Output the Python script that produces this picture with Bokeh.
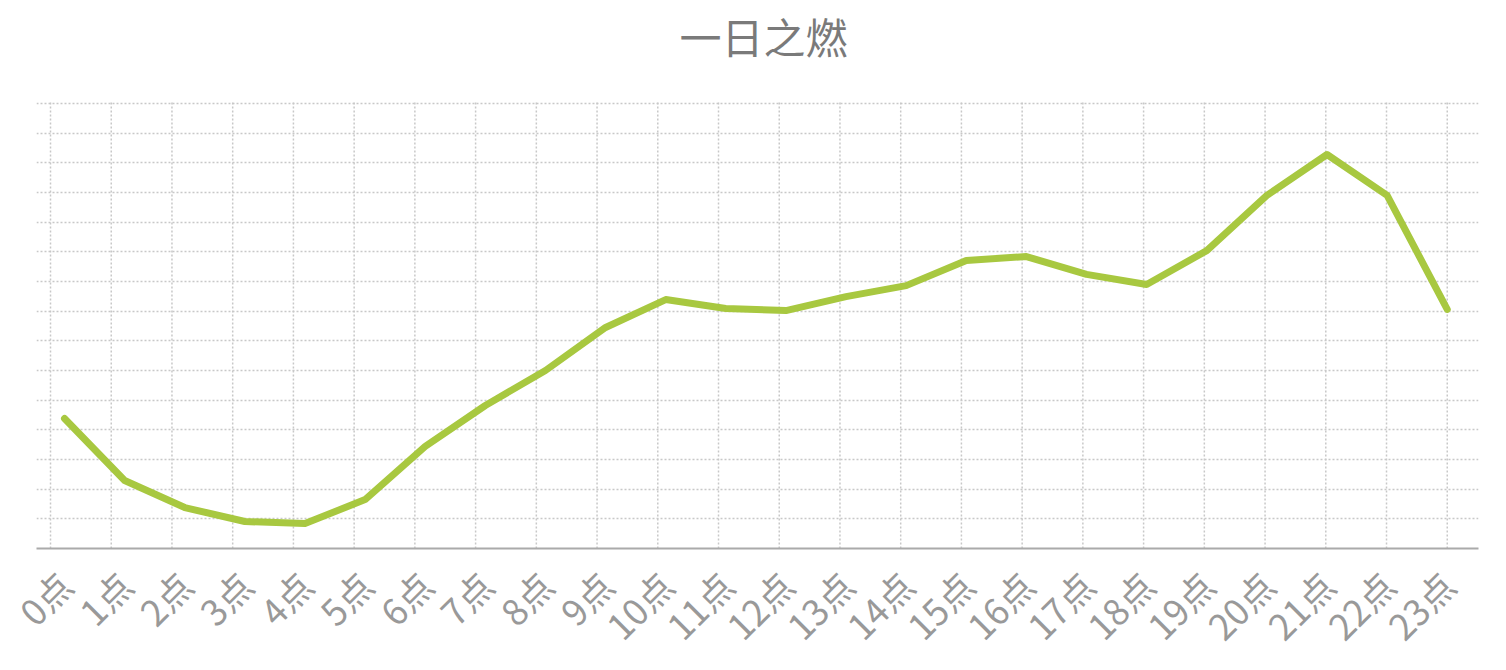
import math
import numpy as np
from bokeh.plotting import figure
from bokeh.models import FixedTicker, ColumnDataSource, Range1d, Label
from bokeh.embed import file_html
from bokeh.resources import INLINE

title_text = "一日之燃"
hours = list(range(24))
hour_labels = [f"{h}点" for h in hours]
values = [4.38, 2.29, 1.38, 0.91, 0.84, 1.65, 3.44, 4.82, 6.0, 7.45, 8.39, 8.09,
          8.02, 8.49, 8.86, 9.71, 9.84, 9.24, 8.90, 10.04, 11.9, 13.28, 11.9, 8.06]
grid_levels = list(range(1, 16))

# frame spans the whole top area so the title can sit inside it
p = figure(width=1500, height=670, output_backend="svg", toolbar_location=None,
           x_range=Range1d(-0.466, 23.52), y_range=Range1d(0, 18.47),
           y_axis_location=None, min_border_left=36, min_border_right=22,
           min_border_top=0, min_border_bottom=122)
p.outline_line_color = None
p.background_fill_color = "white"

title = Label(x=727, y=513, x_units="screen", y_units="screen", text=title_text,
              text_align="center", text_baseline="middle",
              text_font="Noto Sans CJK SC", text_font_size="42px",
              text_color="#7a7a7a")
p.add_layout(title)

# vertical dotted grid (evenly spread, slightly offset from the points like the original)
grid_x = list(np.linspace(-0.233, hours[-1], len(hours)))
top_level = max(grid_levels) + 0.1
vsrc = ColumnDataSource(dict(x=grid_x, y0=[0] * len(grid_x), y1=[top_level] * len(grid_x)))
p.segment(x0="x", y0="y0", x1="x", y1="y1", source=vsrc, line_color="#c8c8c8",
          line_dash="2 2", line_width=1.5)

src = ColumnDataSource(dict(x=hours, y=values))
p.line("x", "y", source=src, line_color="#a8c840", line_width=7, line_join="round", line_cap="round")

p.xaxis.ticker = FixedTicker(ticks=hours)
p.xaxis.major_label_overrides = {h: lab for h, lab in zip(hours, hour_labels)}
p.xaxis.major_label_orientation = math.pi / 4
p.xaxis.major_label_text_font = "Noto Sans CJK SC"
p.xaxis.major_label_text_font_size = "36px"
p.xaxis.major_label_text_color = "#999999"
p.xaxis.major_label_standoff = 23
p.xaxis.major_tick_line_color = None
p.xaxis.minor_tick_line_color = None
p.xaxis.axis_line_color = "#aaaaaa"
p.xaxis.axis_line_width = 2

p.xgrid.grid_line_color = None
p.ygrid.ticker = FixedTicker(ticks=grid_levels)
p.ygrid.grid_line_color = "#c8c8c8"
p.ygrid.grid_line_dash = "2 2"
p.ygrid.grid_line_width = 1.5

open("out.html", "w").write(file_html(p, INLINE))
